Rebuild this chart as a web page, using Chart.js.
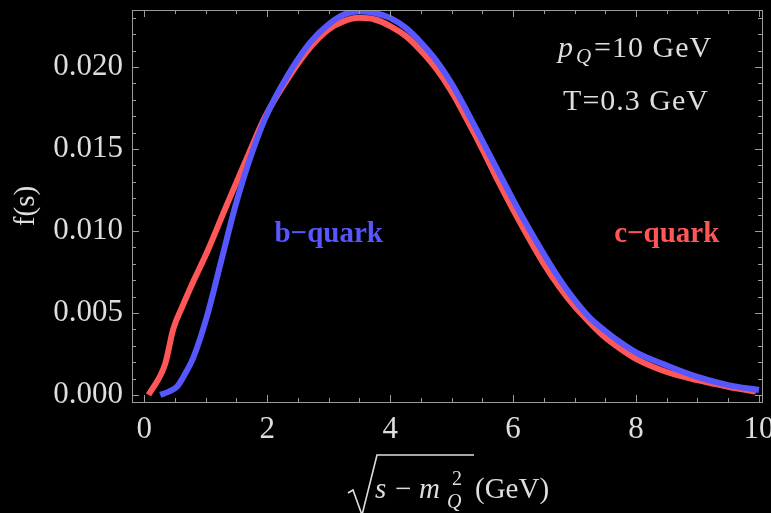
<!DOCTYPE html>
<html>
<head>
<meta charset="utf-8">
<script src="https://cdn.jsdelivr.net/npm/chart.js@4.4.1/dist/chart.umd.min.js"></script>
<style>
  html, body { margin: 0; padding: 0; background: #000; }
  #wrap { width: 771px; height: 513px; }
</style>
</head>
<body>
<div id="wrap"><canvas id="fsChart"></canvas></div>
<script>
// distribution f(s) vs sqrt(s - mQ^2), pQ = 10 GeV, T = 0.3 GeV
const bQuarkX = [0.26, 0.40, 0.53, 0.65, 0.80, 1.02, 1.24, 1.48, 1.70, 1.97, 2.32, 2.70, 3.00, 3.25, 3.50, 3.75, 4.00, 4.25, 4.50, 4.75, 5.00, 5.25, 5.50, 5.75, 6.00, 6.25, 6.50, 6.75, 7.00, 7.25, 7.50, 7.75, 8.00, 8.50, 9.00, 9.50, 10.00];
const bQuarkY = [0.0000, 0.0002, 0.0005, 0.0012, 0.0023, 0.0048, 0.0080, 0.0115, 0.0142, 0.0169, 0.0194, 0.0215, 0.0226, 0.0232, 0.0234, 0.0233, 0.0230, 0.0224, 0.0215, 0.0204, 0.0190, 0.0173, 0.0155, 0.0137, 0.0119, 0.0102, 0.0086, 0.0071, 0.0058, 0.0047, 0.0039, 0.0032, 0.0026, 0.0018, 0.0011, 0.0006, 0.0003];

const cQuarkX = [0.07, 0.34, 0.47, 0.62, 0.82, 1.02, 1.32, 1.72, 1.97, 2.32, 2.70, 3.00, 3.25, 3.50, 3.75, 4.00, 4.25, 4.50, 4.75, 5.00, 5.25, 5.50, 5.75, 6.00, 6.25, 6.50, 6.75, 7.00, 7.25, 7.50, 7.75, 8.00, 8.50, 9.00, 9.50, 9.95];
const cQuarkY = [0.0000, 0.0019, 0.0040, 0.0054, 0.0071, 0.0087, 0.0114, 0.0149, 0.0170, 0.0192, 0.0212, 0.0223, 0.0228, 0.0230, 0.0229, 0.0225, 0.0219, 0.0210, 0.0199, 0.0185, 0.0168, 0.0150, 0.0131, 0.0113, 0.0096, 0.0080, 0.0066, 0.0054, 0.0044, 0.0035, 0.0028, 0.0022, 0.0014, 0.0009, 0.0005, 0.0002];

const xMajorTicks = [0, 2, 4, 6, 8, 10];
const yMajorTicks = [0.000, 0.005, 0.010, 0.015, 0.020];

const BLUE = '#5757ff';
const RED = '#ff5757';
const FRAME = '#9c9c9c';
const TEXT = '#dedede';
const SERIF = '"Liberation Serif", "Times New Roman", serif';

const toPoints = (xs, ys) => xs.map((x, i) => ({ x: x, y: ys[i] }));

// frame with inward ticks on all four sides (Mathematica style)
const frameTicks = {
  id: 'frameTicks',
  afterDatasetsDraw(chart) {
    const { ctx, chartArea: a, scales: { x, y } } = chart;
    ctx.save();
    ctx.strokeStyle = FRAME;
    ctx.lineWidth = 1;
    ctx.strokeRect(Math.round(a.left) + 0.5, Math.round(a.top) + 0.5,
      Math.round(a.right - a.left), Math.round(a.bottom - a.top));
    ctx.beginPath();
    for (let i = 0; i <= 20; i++) {
      const px = Math.round(x.getPixelForValue(i * 0.5)) + 0.5;
      const len = i % 4 === 0 ? 7 : 4;
      ctx.moveTo(px, a.bottom); ctx.lineTo(px, a.bottom - len);
      ctx.moveTo(px, a.top); ctx.lineTo(px, a.top + len);
    }
    for (let i = 0; i <= 23; i++) {
      const py = Math.round(y.getPixelForValue(i * 0.001)) + 0.5;
      const len = i % 5 === 0 ? 7 : 4;
      ctx.moveTo(a.left, py); ctx.lineTo(a.left + len, py);
      ctx.moveTo(a.right, py); ctx.lineTo(a.right - len, py);
    }
    ctx.stroke();
    ctx.restore();
  }
};

// curve labels, parameter text and the x-axis title with its radical
const annotations = {
  id: 'annotations',
  afterDraw(chart) {
    const { ctx, chartArea: a, scales: { x, y } } = chart;
    ctx.save();
    ctx.textBaseline = 'alphabetic';

    ctx.font = 'bold 29px ' + SERIF;
    ctx.textAlign = 'center';
    ctx.fillStyle = BLUE;
    ctx.fillText('b\u2212quark', x.getPixelForValue(3.0), y.getPixelForValue(0.0093));
    ctx.fillStyle = RED;
    ctx.fillText('c\u2212quark', x.getPixelForValue(8.5), y.getPixelForValue(0.0093));

    // p_Q=10 GeV
    ctx.fillStyle = TEXT;
    ctx.textAlign = 'left';
    ctx.letterSpacing = '1px';
    const cx = x.getPixelForValue(8.0);
    const b1 = y.getPixelForValue(0.0206);
    const parts = [
      { t: 'p', f: 'italic 30px ', dy: 0 },
      { t: 'Q', f: 'italic 21px ', dy: 6 },
      { t: '=10 GeV', f: '30px ', dy: 0 }
    ];
    let w = 0;
    parts.forEach(p => { ctx.font = p.f + SERIF; p.w = ctx.measureText(p.t).width + 2; w += p.w; });
    let px = cx - w / 2;
    parts.forEach(p => { ctx.font = p.f + SERIF; ctx.fillText(p.t, px, b1 + p.dy); px += p.w; });

    ctx.font = '30px ' + SERIF;
    ctx.textAlign = 'center';
    ctx.fillText('T=0.3 GeV', cx, y.getPixelForValue(0.0174));
    ctx.letterSpacing = '0px';

    // x title: sqrt(s - m_Q^2) (GeV)
    const mid = (a.left + a.right) / 2;
    const base = 498;
    const x0 = mid - 99;
    ctx.strokeStyle = TEXT;
    ctx.lineWidth = 1.6;
    ctx.beginPath();
    ctx.moveTo(x0, base - 5);
    ctx.lineTo(x0 + 5, base - 8);
    ctx.lineTo(x0 + 14, base + 17);
    ctx.lineTo(x0 + 29, base - 43);
    ctx.lineTo(x0 + 126, base - 43);
    ctx.stroke();
    ctx.textAlign = 'left';
    ctx.font = 'italic 29px ' + SERIF;
    ctx.fillText('s', x0 + 27, base);
    ctx.font = '29px ' + SERIF;
    ctx.fillText('\u2212', x0 + 47, base);
    ctx.font = 'italic 29px ' + SERIF;
    ctx.fillText('m', x0 + 71, base);
    ctx.font = '20px ' + SERIF;
    ctx.fillText('2', x0 + 104, base - 13);
    ctx.font = 'italic 20px ' + SERIF;
    ctx.fillText('Q', x0 + 99, base + 10);
    ctx.font = '29px ' + SERIF;
    ctx.fillText('(GeV)', x0 + 127, base);
    ctx.restore();
  }
};

new Chart(document.getElementById('fsChart'), {
  type: 'line',
  data: {
    datasets: [
      {
        label: 'b-quark',
        data: toPoints(bQuarkX, bQuarkY),
        borderColor: BLUE,
        borderWidth: 6,
        pointRadius: 0,
        cubicInterpolationMode: 'monotone',
        clip: 0
      },
      {
        label: 'c-quark',
        data: toPoints(cQuarkX, cQuarkY),
        borderColor: RED,
        borderWidth: 6,
        pointRadius: 0,
        cubicInterpolationMode: 'monotone',
        clip: 0
      }
    ]
  },
  options: {
    responsive: true,
    maintainAspectRatio: false,
    animation: false,
    layout: { padding: { top: 10, right: 9, left: 0, bottom: 0 } },
    plugins: {
      legend: { display: false },
      tooltip: { enabled: false }
    },
    scales: {
      x: {
        type: 'linear',
        min: -0.2,
        max: 10.05,
        afterBuildTicks: (s) => { s.ticks = xMajorTicks.map(v => ({ value: v })); },
        afterFit: (s) => { s.height = 111; s.paddingLeft = 0; s.paddingRight = 0; },
        grid: { display: false, drawTicks: false },
        border: { display: false },
        ticks: {
          color: TEXT,
          padding: 9,
          maxRotation: 0,
          font: { family: SERIF, size: 31 }
        }
      },
      y: {
        min: -0.00043,
        max: 0.02348,
        afterBuildTicks: (s) => { s.ticks = yMajorTicks.map(v => ({ value: v })); },
        afterFit: (s) => { s.width = 132; s.paddingTop = 0; s.paddingBottom = 0; },
        grid: { display: false, drawTicks: false },
        border: { display: false },
        title: {
          display: true,
          text: 'f(s)',
          color: TEXT,
          padding: { top: 9, bottom: 0 },
          font: { family: SERIF, size: 29 }
        },
        ticks: {
          color: TEXT,
          padding: 9,
          callback: (v) => v.toFixed(3),
          font: { family: SERIF, size: 31 }
        }
      }
    }
  },
  plugins: [frameTicks, annotations]
});
</script>
</body>
</html>
